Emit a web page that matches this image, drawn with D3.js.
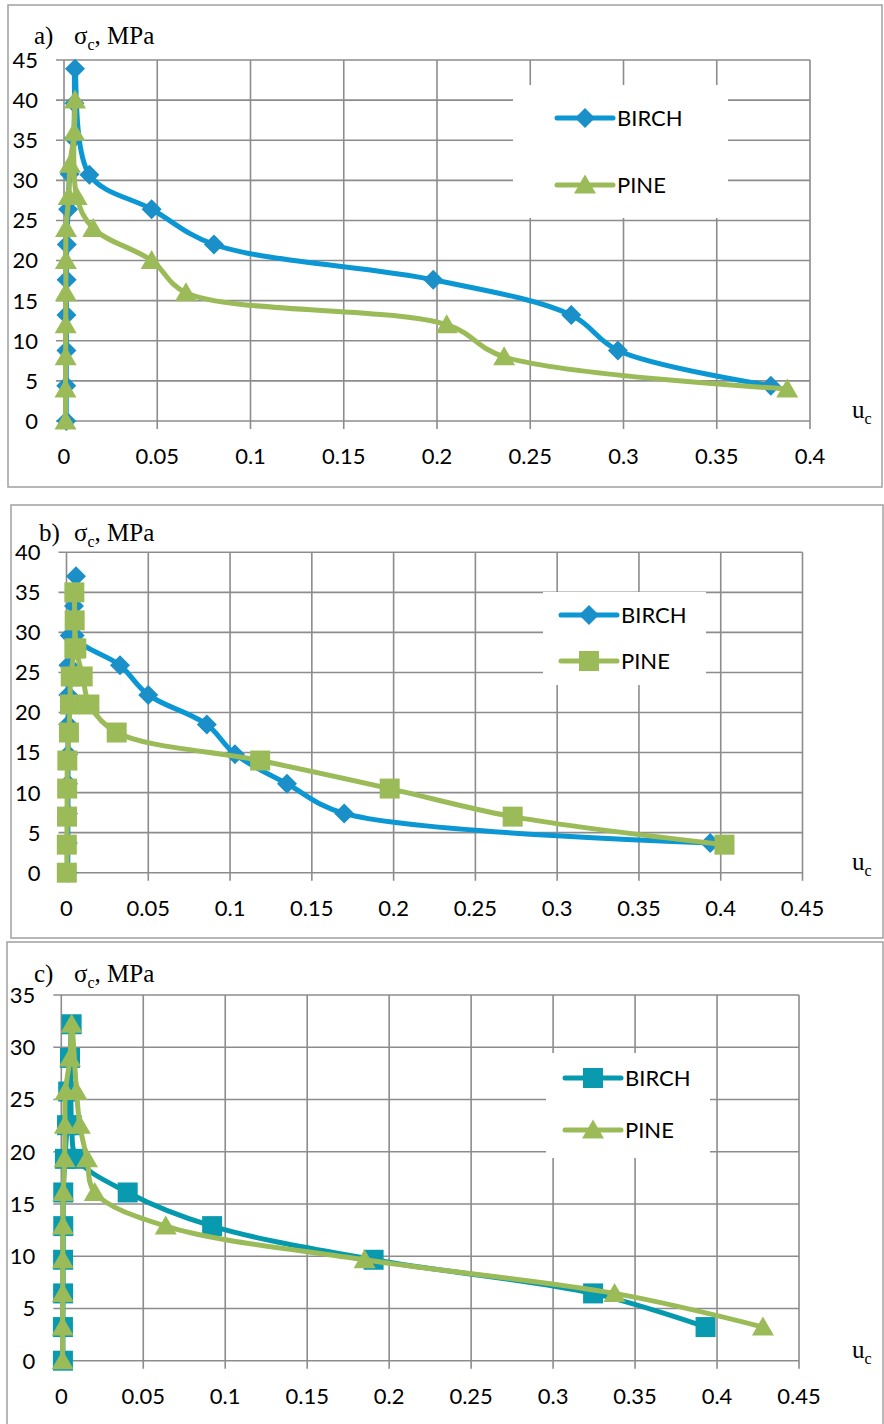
<!DOCTYPE html>
<html>
<head>
<meta charset="utf-8">
<script src="https://cdn.jsdelivr.net/npm/d3@7/dist/d3.min.js"></script>
<style>
  body { margin: 0; background: #fff; }
  svg { display: block; }
</style>
</head>
<body>
<div id="chart"></div>
<script>
const seriesNames = ['BIRCH', 'PINE']

// a) birch (diamonds) / pine (triangles)
const birchA_u = [0.0012, 0.0012, 0.0013, 0.0013, 0.0014, 0.0015, 0.0022, 0.0030, 0.0052, 0.0056, 0.0059, 0.0136, 0.047, 0.0804, 0.198, 0.272, 0.297, 0.379]
const birchA_s = [0, 4.4, 8.8, 13.2, 17.6, 22.0, 26.4, 30.8, 35.2, 39.6, 43.9, 30.7, 26.4, 22.0, 17.6, 13.2, 8.8, 4.4]
const pineA_u = [0.0008, 0.0008, 0.0009, 0.0009, 0.0010, 0.0010, 0.0011, 0.0025, 0.0032, 0.0055, 0.0059, 0.0068, 0.0157, 0.047, 0.0654, 0.2052, 0.236, 0.3878]
const pineA_s = [0, 4, 8, 12, 16, 20, 24, 28, 32, 36, 40, 28, 24, 20, 16, 12, 8, 4]

// b) birch (diamonds) / pine (squares)
const birchB_u = [0.0008, 0.0008, 0.0009, 0.0009, 0.0010, 0.0010, 0.0011, 0.0012, 0.0020, 0.0046, 0.0058, 0.0050, 0.0327, 0.0500, 0.0858, 0.1030, 0.1348, 0.1698, 0.3936]
const birchB_s = [0, 3.7, 7.4, 11.1, 14.8, 18.5, 22.2, 25.9, 29.6, 33.3, 37.0, 29.6, 25.9, 22.2, 18.5, 14.8, 11.1, 7.4, 3.7]
const pineB_u = [0.0002, 0.0002, 0.0003, 0.0004, 0.0005, 0.0015, 0.0021, 0.0026, 0.0048, 0.0050, 0.0048, 0.0060, 0.0099, 0.0140, 0.0307, 0.1184, 0.1976, 0.2728, 0.4023]
const pineB_s = [0, 3.5, 7, 10.5, 14, 17.5, 21, 24.5, 28, 31.5, 35, 28, 24.5, 21, 17.5, 14, 10.5, 7, 3.5]

// c) birch (squares) / pine (triangles)
const birchC_u = [0.0010, 0.0010, 0.0011, 0.0011, 0.0012, 0.0012, 0.0022, 0.0035, 0.0042, 0.0053, 0.0063, 0.0063, 0.0097, 0.0405, 0.0920, 0.1905, 0.3244, 0.3930]
const birchC_s = [0, 3.22, 6.44, 9.66, 12.88, 16.1, 19.32, 22.54, 25.76, 28.98, 32.2, 22.54, 19.32, 16.1, 12.88, 9.66, 6.44, 3.22]
const pineC_u = [0.0008, 0.0008, 0.0009, 0.0009, 0.0010, 0.0012, 0.0020, 0.0022, 0.0025, 0.0053, 0.0063, 0.0093, 0.0113, 0.0157, 0.0204, 0.0637, 0.185, 0.3375, 0.428]
const pineC_s = [0, 3.22, 6.44, 9.66, 12.88, 16.1, 19.32, 22.54, 25.76, 28.98, 32.2, 25.76, 22.54, 19.32, 16.1, 12.88, 9.66, 6.44, 3.22]

const xTicksA = [0, 0.05, 0.1, 0.15, 0.2, 0.25, 0.3, 0.35, 0.4]
const xTicksBC = [0, 0.05, 0.1, 0.15, 0.2, 0.25, 0.3, 0.35, 0.4, 0.45]
const yTicksA = [0, 5, 10, 15, 20, 25, 30, 35, 40, 45]
const yTicksB = [0, 5, 10, 15, 20, 25, 30, 35, 40]
const yTicksC = [0, 5, 10, 15, 20, 25, 30, 35]
const panelLetters = ['a)', 'b)', 'c)']

const BLUE = '#0b97d3', BLUE_M = '#1b8fc8'
const GREEN = '#9bbb59'
const TEAL = '#0499ad', TEAL_M = '#0a9aaf'
const GRID = '#8c8c8c'
const SANS = 'Lato, "Open Sans", sans-serif'
const SERIF = '"Liberation Serif", "DejaVu Serif", serif'

const zip = (u, s) => u.map((d, i) => ({ u: d, s: s[i] }))

const panels = [
  {
    letter: panelLetters[0], frame: [8, 5, 874, 482], titleX: 34, titleY: 44,
    left: 64, right: 810, top: 60, bottom: 421,
    xTicks: xTicksA, yTicks: yTicksA,
    series: [
      { name: seriesNames[0], data: zip(birchA_u, birchA_s), line: BLUE, fill: BLUE_M, shape: 'diamond' },
      { name: seriesNames[1], data: zip(pineA_u, pineA_s), line: GREEN, fill: GREEN, shape: 'triangle' }
    ],
    legend: { x: 513, y: 85, w: 215, h: 133, rows: [118, 185], x1: 557, x2: 613 }
  },
  {
    letter: panelLetters[1], frame: [11, 505, 872, 433], titleX: 39, titleY: 541,
    left: 66.5, right: 802.5, top: 552.3, bottom: 872.7,
    xTicks: xTicksBC, yTicks: yTicksB,
    series: [
      { name: seriesNames[0], data: zip(birchB_u, birchB_s), line: BLUE, fill: BLUE_M, shape: 'diamond' },
      { name: seriesNames[1], data: zip(pineB_u, pineB_s), line: GREEN, fill: GREEN, shape: 'square' }
    ],
    legend: { x: 543, y: 592, w: 163, h: 93, rows: [615, 661], x1: 561, x2: 617 }
  },
  {
    letter: panelLetters[2], frame: [7, 942, 876, 500], titleX: 34, titleY: 982,
    left: 61.3, right: 799, top: 995, bottom: 1360.7,
    xTicks: xTicksBC, yTicks: yTicksC,
    series: [
      { name: seriesNames[0], data: zip(birchC_u, birchC_s), line: TEAL, fill: TEAL_M, shape: 'square' },
      { name: seriesNames[1], data: zip(pineC_u, pineC_s), line: GREEN, fill: GREEN, shape: 'triangle' }
    ],
    legend: { x: 546, y: 1053, w: 164, h: 105, rows: [1078, 1130], x1: 565, x2: 621 }
  }
]

function markerPath(shape) {
  if (shape === 'diamond') { const s = 10; return `M0,${-s}L${s},0L0,${s}L${-s},0Z` }
  if (shape === 'square') { const s = 10; return `M${-s},${-s}H${s}V${s}H${-s}Z` }
  const s = 10
  return `M0,${-s * 1.05}L${s * 1.1},${s * 0.85}L${-s * 1.1},${s * 0.85}Z`
}

const svg = d3.select('#chart')
  .append('svg')
  .attr('width', 884)
  .attr('height', 1424)

panels.forEach(drawPanel)

function drawPanel(p) {
  const g = svg.append('g')

  g.append('rect')
    .attr('x', p.frame[0]).attr('y', p.frame[1])
    .attr('width', p.frame[2]).attr('height', p.frame[3])
    .attr('fill', 'none').attr('stroke', '#a0a0a0').attr('stroke-width', 1.5)

  const x = d3.scaleLinear().domain([0, d3.max(p.xTicks)]).range([p.left, p.right])
  const y = d3.scaleLinear().domain([0, d3.max(p.yTicks)]).range([p.bottom, p.top])

  // gridlines (+ outside tick marks, same grey)
  g.selectAll('.hgrid')
    .data(p.yTicks)
    .enter()
    .append('line')
    .attr('x1', p.left - 8).attr('x2', p.right)
    .attr('y1', d => y(d)).attr('y2', d => y(d))
    .attr('stroke', GRID).attr('stroke-width', 1.6)

  g.selectAll('.vgrid')
    .data(p.xTicks)
    .enter()
    .append('line')
    .attr('x1', d => x(d)).attr('x2', d => x(d))
    .attr('y1', p.top).attr('y2', p.bottom + 8)
    .attr('stroke', GRID).attr('stroke-width', 1.6)

  g.selectAll('.ylab')
    .data(p.yTicks)
    .enter()
    .append('text')
    .attr('x', p.left - 26)
    .attr('y', d => y(d))
    .attr('dy', '0.36em')
    .attr('text-anchor', 'end')
    .attr('font-family', SANS).attr('font-size', 22)
    .text(d => d)

  g.selectAll('.xlab')
    .data(p.xTicks)
    .enter()
    .append('text')
    .attr('x', d => x(d))
    .attr('y', p.bottom + 43)
    .attr('text-anchor', 'middle')
    .attr('font-family', SANS).attr('font-size', 22)
    .text(d => +d.toFixed(2))

  // panel letter and axis titles
  g.append('text')
    .attr('x', p.titleX).attr('y', p.titleY)
    .attr('font-family', SERIF).attr('font-size', 25)
    .text(p.letter)

  const yt = g.append('text')
    .attr('x', 74).attr('y', p.titleY)
    .attr('font-family', SERIF).attr('font-size', 25)
  yt.append('tspan').text('σ')
  yt.append('tspan').attr('font-size', 16).attr('dy', 6).text('c')
  yt.append('tspan').attr('dy', -6).text(', MPa')

  const xt = g.append('text')
    .attr('x', 852).attr('y', p.bottom - 3)
    .attr('font-family', SERIF).attr('font-size', 25)
  xt.append('tspan').text('u')
  xt.append('tspan').attr('font-size', 16).attr('dy', 6).text('c')

  const line = d3.line()
    .x(d => x(d.u))
    .y(d => y(d.s))
    .curve(d3.curveCatmullRom.alpha(0.5))

  p.series.forEach(s => {
    g.append('path')
      .datum(s.data)
      .attr('d', line)
      .attr('fill', 'none')
      .attr('stroke', s.line)
      .attr('stroke-width', 5)
      .attr('stroke-linejoin', 'round')
      .attr('stroke-linecap', 'round')

    g.selectAll('.m-' + s.name)
      .data(s.data)
      .enter()
      .append('path')
      .attr('d', markerPath(s.shape))
      .attr('transform', d => `translate(${x(d.u)},${y(d.s)})`)
      .attr('fill', s.fill)
  })

  // legend
  const L = p.legend
  g.append('rect')
    .attr('x', L.x).attr('y', L.y).attr('width', L.w).attr('height', L.h)
    .attr('fill', '#fff')

  p.series.forEach((s, i) => {
    const ly = L.rows[i]
    g.append('line')
      .attr('x1', L.x1).attr('x2', L.x2)
      .attr('y1', ly).attr('y2', ly)
      .attr('stroke', s.line).attr('stroke-width', 5)
      .attr('stroke-linecap', 'round')
    g.append('path')
      .attr('d', markerPath(s.shape))
      .attr('transform', `translate(${(L.x1 + L.x2) / 2},${ly})`)
      .attr('fill', s.fill)
    g.append('text')
      .attr('x', L.x2 + 4).attr('y', ly)
      .attr('dy', '0.36em')
      .attr('font-family', SANS).attr('font-size', 22)
      .text(s.name)
  })
}
</script>
</body>
</html>
